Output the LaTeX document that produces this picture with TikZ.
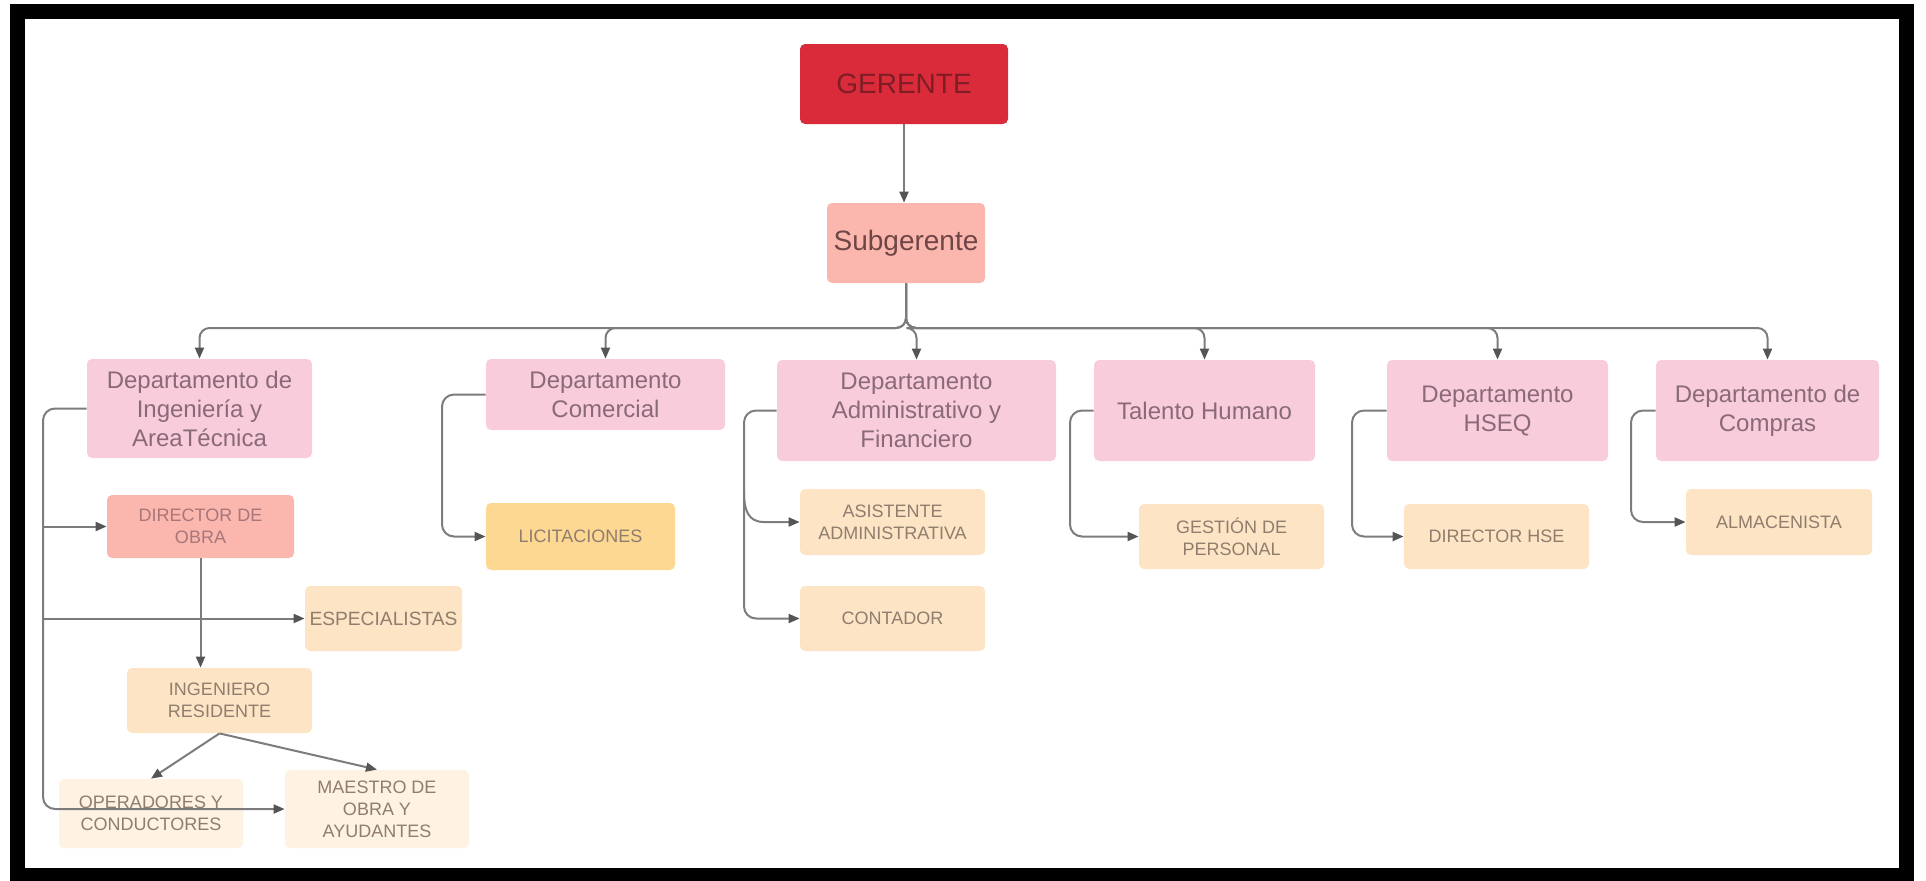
\documentclass[tikz,border=0pt]{standalone}
\usepackage{fontspec}
\setmainfont{Liberation Sans}
\usetikzlibrary{arrows.meta,calc}

\definecolor{gerfill}{HTML}{D92B3A}
\definecolor{gertext}{HTML}{7F1D25}
\definecolor{salmon}{HTML}{FBB6AE}
\definecolor{subtext}{HTML}{6E4646}
\definecolor{deptfill}{HTML}{F8CCDB}
\definecolor{depttext}{HTML}{8A6A79}
\definecolor{peach}{HTML}{FCE4C4}
\definecolor{amber}{HTML}{FDD892}
\definecolor{cream}{HTML}{FEF2E2}
\definecolor{roletext}{HTML}{8F7D6E}
\definecolor{dirtext}{HTML}{A8777A}
\definecolor{wire}{HTML}{7C7C7C}
\definecolor{tip}{HTML}{555555}

\begin{document}
\begin{tikzpicture}[x=0.5pt,y=-0.5pt,
  box/.style={rounded corners=2.5pt, inner sep=0pt, align=center},
  topbox/.style={box, font=\fontsize{14}{16}\selectfont},
  dept/.style={box, fill=deptfill, text=depttext,
    font=\fontsize{12}{14.5}\selectfont},
  role/.style={box, fill=peach, text=roletext,
    font=\fontsize{9}{11}\selectfont},
  conn/.style={draw=wire, line width=1pt,
    -{Triangle[length=5.5pt,width=4.5pt,color=tip]}},
]
\useasboundingbox (0,0) rectangle (1926,880);

% outer frame
\draw[line width=7.5pt] (17.5,11) rectangle (1906.5,875);

% top of the chart
\node[topbox, fill=gerfill, text=gertext, minimum width=104pt, minimum height=40pt] (ger) at (904,84) {GERENTE};
\node[topbox, fill=salmon, text=subtext, minimum width=79pt, minimum height=40pt] (sub) at (906,243) {Subgerente};

% departments
\node[dept, minimum width=112.5pt, minimum height=49.5pt] (d1) at (199.5,408.5) {Departamento de\\Ingeniería y\\AreaTécnica};
\node[dept, minimum width=119.5pt, minimum height=35.5pt] (d2) at (605.5,394.5) {Departamento\\Comercial};
\node[dept, minimum width=139.5pt, minimum height=50.5pt] (d3) at (916.5,410.5) {Departamento\\Administrativo y\\Financiero};
\node[dept, minimum width=110.5pt, minimum height=50.5pt] (d4) at (1204.5,410.5) {Talento Humano};
\node[dept, minimum width=110.5pt, minimum height=50.5pt] (d5) at (1497.5,410.5) {Departamento\\HSEQ};
\node[dept, minimum width=111.5pt, minimum height=50.5pt] (d6) at (1767.5,410.5) {Departamento de\\Compras};

% roles
\node[role, fill=salmon, text=dirtext, minimum width=93.5pt, minimum height=31.5pt] (dir) at (200.5,526.5) {DIRECTOR DE\\OBRA};
\node[role, font=\fontsize{9.6}{11}\selectfont, minimum width=78.5pt, minimum height=32.5pt] (esp) at (383.5,618.5) {ESPECIALISTAS};
\node[role, minimum width=92.5pt, minimum height=32.5pt] (ing) at (219.5,700.5) {INGENIERO\\RESIDENTE};
\node[role, fill=cream, minimum width=92pt, minimum height=34.5pt] (ope) at (151,813.5) {OPERADORES Y\\CONDUCTORES};
\node[role, fill=cream, minimum width=92pt, minimum height=39pt] (mae) at (377,809) {MAESTRO DE\\OBRA Y\\AYUDANTES};
\node[role, fill=amber, minimum width=94.5pt, minimum height=33.5pt] (lic) at (580.5,536.5) {LICITACIONES};
\node[role, minimum width=92.5pt, minimum height=33pt] (asi) at (892.5,522) {ASISTENTE\\ADMINISTRATIVA};
\node[role, minimum width=92.5pt, minimum height=32.5pt] (con) at (892.5,618.5) {CONTADOR};
\node[role, minimum width=92.5pt, minimum height=32.5pt] (ges) at (1231.5,536.5) {GESTIÓN DE\\PERSONAL};
\node[role, minimum width=92.5pt, minimum height=32.5pt] (hse) at (1496.5,536.5) {DIRECTOR HSE};
\node[role, minimum width=93pt, minimum height=33pt] (alm) at (1779,522) {ALMACENISTA};

% trunk positions
\coordinate (bus) at (906,328);
\coordinate (t1) at (43,0);
\coordinate (t2) at (442,0);
\coordinate (t3) at (744,0);
\coordinate (t4) at (1070,0);
\coordinate (t5) at (1352,0);
\coordinate (t6) at (1631,0);

% management links
\draw[conn] (ger.south) -- (ger.south |- sub.north);
\foreach \d in {d1,d2,d3,d4,d5,d6}
  \draw[conn, rounded corners=5pt] (sub.south) -- (sub.south |- bus) -| (\d.north);

% engineering branch
\draw[conn, rounded corners=6pt] (d1.west) -| (t1 |- mae.west) -- (mae.west);
\draw[conn] (t1 |- dir.west) -- (dir.west);
\draw[conn] (t1 |- esp.west) -- (esp.west);
\draw[conn] (dir.south) -- (dir.south |- ing.north);
\draw[conn] (ing.south) -- (ope.north);
\draw[conn] (ing.south) -- (mae.north);

% other departments
\draw[conn, rounded corners=6pt] (d2.west) -| (t2 |- lic.west) -- (lic.west);
\draw[conn, rounded corners=6pt] (d3.west) -| (t3 |- con.west) -- (con.west);
\draw[conn] ($(t3 |- asi.west)+(0,-30)$) .. controls ($(t3 |- asi.west)+(0,-12)$) and ($(t3 |- asi.west)+(4,0)$) .. ($(t3 |- asi.west)+(20,0)$) -- (asi.west);
\draw[conn, rounded corners=6pt] (d4.west) -| (t4 |- ges.west) -- (ges.west);
\draw[conn, rounded corners=6pt] (d5.west) -| (t5 |- hse.west) -- (hse.west);
\draw[conn, rounded corners=6pt] (d6.west) -| (t6 |- alm.west) -- (alm.west);
\end{tikzpicture}
\end{document}
